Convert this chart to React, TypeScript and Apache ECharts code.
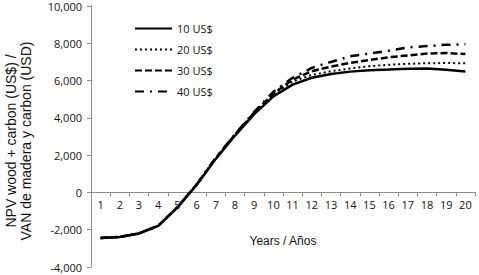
import React, { useEffect, useRef } from "react";
import * as echarts from "echarts";

const years = ["1","2","3","4","5","6","7","8","9","10","11","12","13","14","15","16","17","18","19","20"];
const p10 = [-2440,-2390,-2200,-1790,-800,400,1800,3050,4200,5150,5780,6150,6350,6480,6550,6590,6640,6650,6580,6490];
const p20 = [-2440,-2390,-2200,-1790,-800,410,1820,3080,4250,5250,5950,6300,6500,6650,6770,6850,6900,6930,6940,6930];
const p30 = [-2440,-2390,-2200,-1790,-800,420,1840,3100,4280,5300,6050,6500,6750,6950,7100,7250,7350,7450,7480,7420];
const p40 = [-2440,-2390,-2200,-1790,-800,430,1860,3120,4320,5400,6150,6680,7000,7300,7450,7600,7780,7850,7920,7950];
const seriesNames = ["10 US$", "20 US$", "30 US$", "40 US$"];
const yTicks = { min: -4000, max: 10000, interval: 2000 };

const tickFont = "'Open Sans', sans-serif";
const nameFont = "'Liberation Sans', Arial, sans-serif";

export default function App() {
  const ref = useRef<HTMLDivElement>(null);
  useEffect(() => {
    const chart = echarts.init(ref.current!, null, { renderer: "svg" });
    const axisGray = "#8a8a8a";
    const H = 275;
    const gridTop = 6, gridBottom = 267;
    const zeroY = gridTop + ((yTicks.max - 0) / (yTicks.max - yTicks.min)) * (gridBottom - gridTop);
    const mk = (name: string, data: number[], type: any, width: number) => ({
      name,
      type: "line",
      xAxisIndex: 0,
      yAxisIndex: 0,
      data,
      symbol: "none",
      lineStyle: { color: "#000", width, type },
      itemStyle: { color: "#000" },
    });
    chart.setOption({
      animation: false,
      grid: [
        { left: 91, right: 4, top: gridTop, bottom: H - gridBottom, containLabel: false, outerBoundsMode: "none" },
        { left: 91, right: 4, top: gridTop, bottom: H - zeroY, containLabel: false, outerBoundsMode: "none" },
      ],
      legend: {
        orient: "vertical",
        left: 129,
        top: 18,
        itemWidth: 37,
        itemHeight: 14,
        itemGap: 9.8,
        data: seriesNames,
        itemStyle: { color: "rgba(0,0,0,0)", borderWidth: 0, opacity: 0 },
        textStyle: { fontFamily: tickFont, fontSize: 11, color: "#111" },
      },
      xAxis: [
        {
          type: "category",
          gridIndex: 0,
          data: years,
          boundaryGap: true,
          show: false,
        },
        {
          type: "category",
          gridIndex: 1,
          data: years,
          boundaryGap: true,
          position: "bottom",
          axisLine: { show: true, onZero: false, lineStyle: { color: axisGray, width: 1 } },
          axisTick: { show: true, length: 4, inside: false, lineStyle: { color: axisGray } },
          axisLabel: { fontFamily: tickFont, fontSize: 11, color: "#111", margin: 7, interval: 0 },
          name: "Years / Años",
          nameLocation: "middle",
          nameGap: 43,
          nameTextStyle: { fontFamily: nameFont, fontSize: 12, color: "#111" },
        },
      ],
      yAxis: [
        {
          type: "value",
          gridIndex: 0,
          min: yTicks.min,
          max: yTicks.max,
          interval: yTicks.interval,
          splitLine: { show: false },
          axisLine: { show: true, lineStyle: { color: axisGray, width: 1 } },
          axisTick: { show: true, length: 4, lineStyle: { color: axisGray } },
          axisLabel: {
            fontFamily: tickFont,
            fontSize: 11,
            color: "#111",
            margin: 9,
            formatter: (v: number) => v.toLocaleString("en-US"),
          },
        },
        {
          type: "value",
          gridIndex: 1,
          min: 0,
          max: 1,
          show: false,
        },
      ],
      graphic: [
        {
          type: "text",
          x: 18,
          y: 141,
          rotation: Math.PI / 2,
          style: {
            text: "NPV wood + carbon (US$) /\nVAN de madera y carbon (USD)",
            fontFamily: nameFont,
            fontSize: 14,
            lineHeight: 15,
            fill: "#111",
            textAlign: "center",
            textVerticalAlign: "middle",
          },
        },
      ],
      series: [
        mk(seriesNames[0], p10, "solid", 2.5),
        mk(seriesNames[1], p20, [2, 3], 2),
        mk(seriesNames[2], p30, [7, 3], 2.5),
        mk(seriesNames[3], p40, [9, 6, 2, 6], 2.5),
      ],
    });
    return () => chart.dispose();
  }, []);
  return (
    <div
      ref={ref}
      style={{ position: "absolute", left: 0, top: 0, width: 479, height: 275 }}
    />
  );
}
